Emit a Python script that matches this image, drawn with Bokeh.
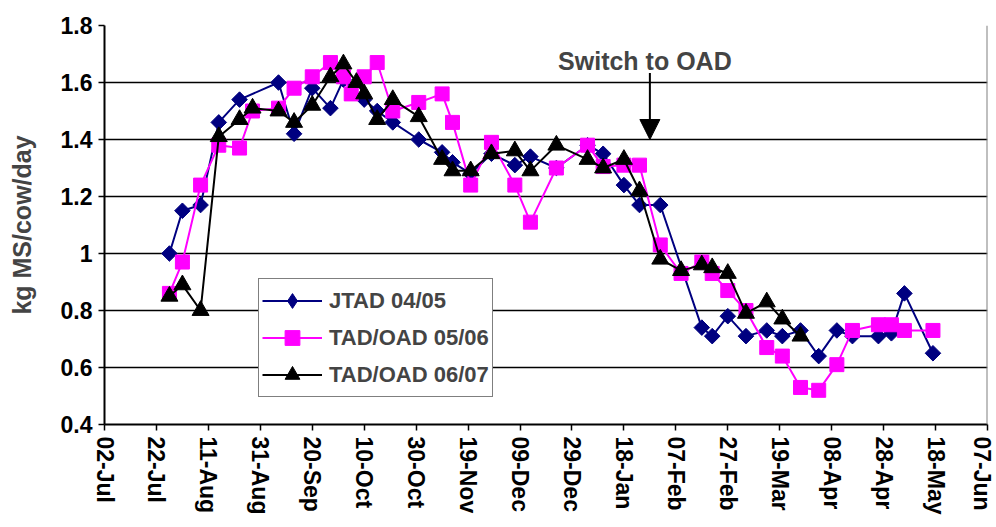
import math
import pandas as pd
from bokeh.plotting import figure
from bokeh.models import (FixedTicker, DatetimeTickFormatter, Span, Label, Arrow,
                          NormalHead, ColumnDataSource, Legend, LegendItem)
from bokeh.embed import file_html
from bokeh.resources import INLINE

# ---------------- data ----------------
jtad_dates = ["2006-07-27", "2006-08-01", "2006-08-08", "2006-08-15", "2006-08-23",
              "2006-09-07", "2006-09-13", "2006-09-20", "2006-09-27", "2006-10-02",
              "2006-10-10", "2006-10-15", "2006-10-21", "2006-10-31", "2006-11-09",
              "2006-11-13", "2006-11-20", "2006-11-28", "2006-12-07", "2006-12-13",
              "2006-12-23", "2007-01-04", "2007-01-10", "2007-01-18", "2007-01-24",
              "2007-02-01", "2007-02-17", "2007-02-21", "2007-02-27", "2007-03-06",
              "2007-03-14", "2007-03-20", "2007-03-27", "2007-04-03", "2007-04-10",
              "2007-04-16", "2007-04-26", "2007-05-01", "2007-05-06", "2007-05-17"]
jtad_vals = [1.00, 1.15, 1.17, 1.46, 1.54,
             1.60, 1.42, 1.58, 1.51, 1.61,
             1.54, 1.50, 1.46, 1.40, 1.355,
             1.32, 1.28, 1.35, 1.31, 1.34,
             1.30, 1.38, 1.35, 1.24, 1.17,
             1.17, 0.74, 0.71, 0.78, 0.71,
             0.73, 0.71, 0.73, 0.64, 0.73,
             0.71, 0.71, 0.72, 0.86, 0.65]

tad0506_dates = ["2006-07-27", "2006-08-01", "2006-08-08", "2006-08-15", "2006-08-23",
                 "2006-08-28", "2006-09-07", "2006-09-13", "2006-09-20", "2006-09-27",
                 "2006-10-02", "2006-10-05", "2006-10-10", "2006-10-15", "2006-10-21",
                 "2006-10-31", "2006-11-09", "2006-11-13", "2006-11-20", "2006-11-28",
                 "2006-12-07", "2006-12-13", "2006-12-23", "2007-01-04", "2007-01-10",
                 "2007-01-18", "2007-01-24", "2007-02-01", "2007-02-09", "2007-02-17",
                 "2007-02-21", "2007-02-27", "2007-03-06", "2007-03-14", "2007-03-20",
                 "2007-03-27", "2007-04-03", "2007-04-10", "2007-04-16", "2007-04-26",
                 "2007-05-01", "2007-05-06", "2007-05-17"]
tad0506_vals = [0.86, 0.97, 1.24, 1.38, 1.37,
                1.50, 1.51, 1.58, 1.62, 1.67,
                1.62, 1.56, 1.62, 1.67, 1.50,
                1.53, 1.56, 1.46, 1.24, 1.39,
                1.24, 1.11, 1.30, 1.38, 1.305,
                1.31, 1.31, 1.03, 0.93, 0.97,
                0.93, 0.87, 0.80, 0.67, 0.64,
                0.53, 0.52, 0.61, 0.73, 0.75,
                0.75, 0.73, 0.73]

tad0607_dates = ["2006-07-27", "2006-08-01", "2006-08-08", "2006-08-15", "2006-08-23",
                 "2006-08-28", "2006-09-07", "2006-09-13", "2006-09-20", "2006-09-27",
                 "2006-10-02", "2006-10-07", "2006-10-10", "2006-10-15", "2006-10-21",
                 "2006-10-31", "2006-11-09", "2006-11-13", "2006-11-20", "2006-11-28",
                 "2006-12-07", "2006-12-13", "2006-12-23", "2007-01-04", "2007-01-10",
                 "2007-01-18", "2007-01-24", "2007-02-01", "2007-02-09", "2007-02-17",
                 "2007-02-21", "2007-02-27", "2007-03-06", "2007-03-14", "2007-03-20",
                 "2007-03-27"]
tad0607_vals = [0.85, 0.89, 0.80, 1.41, 1.47,
                1.51, 1.50, 1.46, 1.52, 1.62,
                1.665, 1.60, 1.56, 1.47, 1.54,
                1.48, 1.33, 1.29, 1.29, 1.35,
                1.36, 1.29, 1.38, 1.33, 1.30,
                1.33, 1.22, 0.98, 0.94, 0.96,
                0.95, 0.93, 0.79, 0.83, 0.77,
                0.71]

x_tick_dates = ["2006-07-02", "2006-07-22", "2006-08-11", "2006-08-31", "2006-09-20",
                "2006-10-10", "2006-10-30", "2006-11-19", "2006-12-09", "2006-12-29",
                "2007-01-18", "2007-02-07", "2007-02-27", "2007-03-19", "2007-04-08",
                "2007-04-28", "2007-05-18", "2007-06-07"]
y_ticks = [0.4, 0.6, 0.8, 1.0, 1.2, 1.4, 1.6, 1.8]

series_names = ["JTAD 04/05", "TAD/OAD 05/06", "TAD/OAD 06/07"]
switch_text = "Switch to OAD"
switch_date = "2007-01-28"
switch_arrow_top = 1.633
switch_arrow_tip = 1.40
y_label = "kg MS/cow/day"

# ---------------- helpers ----------------
def ms(d):
    return pd.Timestamp(d).value / 1e6

FONT = "Liberation Sans"

p = figure(width=994, height=525, x_axis_type="datetime",
           x_range=(ms(x_tick_dates[0]), ms(x_tick_dates[-1])),
           y_range=(y_ticks[0], y_ticks[-1]),
           output_backend="svg", toolbar_location=None,
           min_border_left=104, min_border_right=7, min_border_top=25,
           min_border_bottom=101)
p.background_fill_color = "white"
p.border_fill_color = "white"
p.outline_line_color = None

# grid
p.xgrid.visible = False
p.ygrid.ticker = FixedTicker(ticks=y_ticks)
p.ygrid.grid_line_color = "black"
p.ygrid.grid_line_width = 1.5

# axes
p.xaxis.ticker = FixedTicker(ticks=[ms(d) for d in x_tick_dates])
fmt = "%d-%b"
p.xaxis.formatter = DatetimeTickFormatter(
    microseconds=fmt, milliseconds=fmt, seconds=fmt, minsec=fmt, minutes=fmt,
    hourmin=fmt, hours=fmt, days=fmt, months=fmt, years=fmt)
p.xaxis.major_label_orientation = "vertical"
p.yaxis.ticker = FixedTicker(ticks=y_ticks)
p.yaxis.major_label_overrides = {1: "1"}

for ax in (p.xaxis, p.yaxis):
    ax.axis_line_color = "black"
    ax.axis_line_width = 2
    ax.major_tick_line_color = "black"
    ax.major_tick_line_width = 1.5
    ax.major_tick_out = 6
    ax.major_tick_in = 0
    ax.minor_tick_line_color = None
    ax.major_label_text_font = FONT
    ax.major_label_text_font_style = "bold"
    ax.major_label_text_color = "black"

p.xaxis.major_label_text_font_size = "23px"
p.xaxis.major_label_standoff = 6
p.yaxis.major_label_text_font_size = "23px"
p.yaxis.major_label_standoff = 6
p.yaxis.axis_label = y_label
p.yaxis.axis_label_text_font = FONT
p.yaxis.axis_label_text_font_style = "bold"
p.yaxis.axis_label_text_font_size = "25px"
p.yaxis.axis_label_standoff = 22

# right border of plot area
p.add_layout(Span(location=ms(x_tick_dates[-1]), dimension="height",
                  line_color="#808080", line_width=2))

# series
specs = [
    (jtad_dates, jtad_vals, "#000080", "square", 11, math.pi / 4, "diamond"),
    (tad0506_dates, tad0506_vals, "#FF00FF", "square", 14, 0.0, None),
    (tad0607_dates, tad0607_vals, "black", "triangle", 17, 0.0, None),
]
items = []
for (dates, vals, col, marker, size, ang, legend_marker), name in zip(specs, series_names):
    src = ColumnDataSource(dict(x=pd.to_datetime(dates), y=vals))
    lr = p.line("x", "y", source=src, line_color=col, line_width=2)
    sr = p.scatter("x", "y", source=src, marker=marker, size=size, angle=ang,
                   fill_color=col, line_color=col)
    if legend_marker is not None:
        # legend-only glyph (the legend cannot rotate markers)
        kr = p.scatter("x", "y", source=src, marker=legend_marker, size=size,
                       fill_color=col, line_color=col, visible=False)
        items.append(LegendItem(label=name, renderers=[lr, kr]))
    else:
        items.append(LegendItem(label=name, renderers=[lr, sr]))

# annotation
p.add_layout(Arrow(end=NormalHead(size=20, fill_color="black", line_color="black"),
                   x_start=ms(switch_date), y_start=switch_arrow_top,
                   x_end=ms(switch_date), y_end=switch_arrow_tip,
                   line_color="black", line_width=2))
p.add_layout(Label(x=ms(switch_date), y=switch_arrow_top, text=switch_text,
                   text_align="center", text_baseline="bottom", x_offset=-5,
                   y_offset=-2,
                   text_font=FONT, text_font_style="bold", text_font_size="25px"))

# legend
lg = Legend(items=items, location=(154, 27))
lg.border_line_color = "black"
lg.border_line_width = 1.5
lg.background_fill_color = "white"
lg.background_fill_alpha = 1
lg.inactive_fill_alpha = 0
lg.label_text_font = FONT
lg.label_text_font_style = "bold"
lg.label_text_font_size = "22px"
lg.glyph_width = 60
lg.glyph_height = 37
lg.label_height = 37
lg.spacing = 0
lg.padding = 3
lg.margin = 0
lg.label_standoff = 7
p.add_layout(lg, "center")

open("out.html", "w").write(file_html(p, INLINE))
